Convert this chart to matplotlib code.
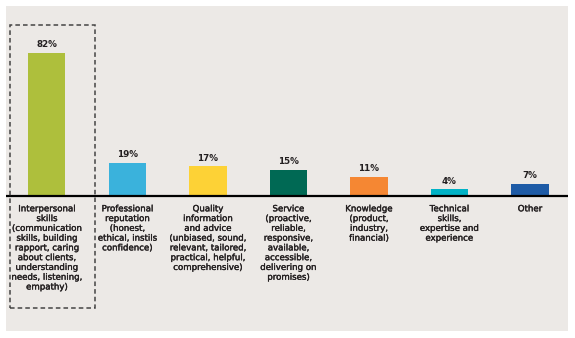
import matplotlib.pyplot as plt
import matplotlib.patheffects as pe
from matplotlib.patches import Rectangle

categories = [
    "Interpersonal\nskills\n(communication\nskills, building\nrapport, caring\nabout clients,\nunderstanding\nneeds, listening,\nempathy)",
    "Professional\nreputation\n(honest,\nethical, instils\nconfidence)",
    "Quality\ninformation\nand advice\n(unbiased, sound,\nrelevant, tailored,\npractical, helpful,\ncomprehensive)",
    "Service\n(proactive,\nreliable,\nresponsive,\navailable,\naccessible,\ndelivering on\npromises)",
    "Knowledge\n(product,\nindustry,\nfinancial)",
    "Technical\nskills,\nexpertise and\nexperience",
    "Other",
]
values = [82, 19, 17, 15, 11, 4, 7]
colors = ["#AEBF3C", "#3AB2DC", "#FDD236", "#006954", "#F58733", "#00B2C6", "#1E5BA6"]

W, H = 575, 338
bg = "#ECE9E6"
txt = "#231F20"
heavy = [pe.withStroke(linewidth=0.25, foreground=txt)]

fig = plt.figure(figsize=(W / 100, H / 100), dpi=100)
fig.patch.set_facecolor("white")

# grey panel, pixel box 6..568 x 6..331
left, right, top, bottom = 6, 568, 6, 331
ax = fig.add_axes([left / W, 1 - bottom / H, (right - left) / W, (bottom - top) / H])
ax.set_facecolor(bg)

x = list(range(len(values)))
ax.bar(x, values, width=0.46, color=colors, zorder=2)
ax.axhline(0, color="black", lw=1.6, zorder=3)

for xi, v in zip(x, values):
    ax.annotate(f"{v}%", (xi, v), xytext=(0, 2.5), textcoords="offset points",
                ha="center", va="bottom", fontsize=6.3, fontweight="bold", color=txt)

for xi, lab in zip(x, categories):
    ax.annotate(lab, (xi, 0), xytext=(0, -6), textcoords="offset points",
                ha="center", va="top", fontsize=6.2, color=txt, linespacing=1.11,
                path_effects=heavy)

ax.set_xlim(-0.509, 6.472)
ax.set_ylim(-77.4, 108.9)
ax.axis("off")
ax.add_patch(Rectangle((0, 0), 1, 1, transform=ax.transAxes, facecolor=bg,
                       edgecolor="none", zorder=0))

# dashed highlight around the top category
ax.add_patch(Rectangle((-0.46, -64.5), 1.056, 162.5, fill=False, edgecolor="#444444",
                       lw=1.1, linestyle=(0, (3, 2)), zorder=4, clip_on=False))

fig.savefig("out.png", dpi=100, facecolor="white")
